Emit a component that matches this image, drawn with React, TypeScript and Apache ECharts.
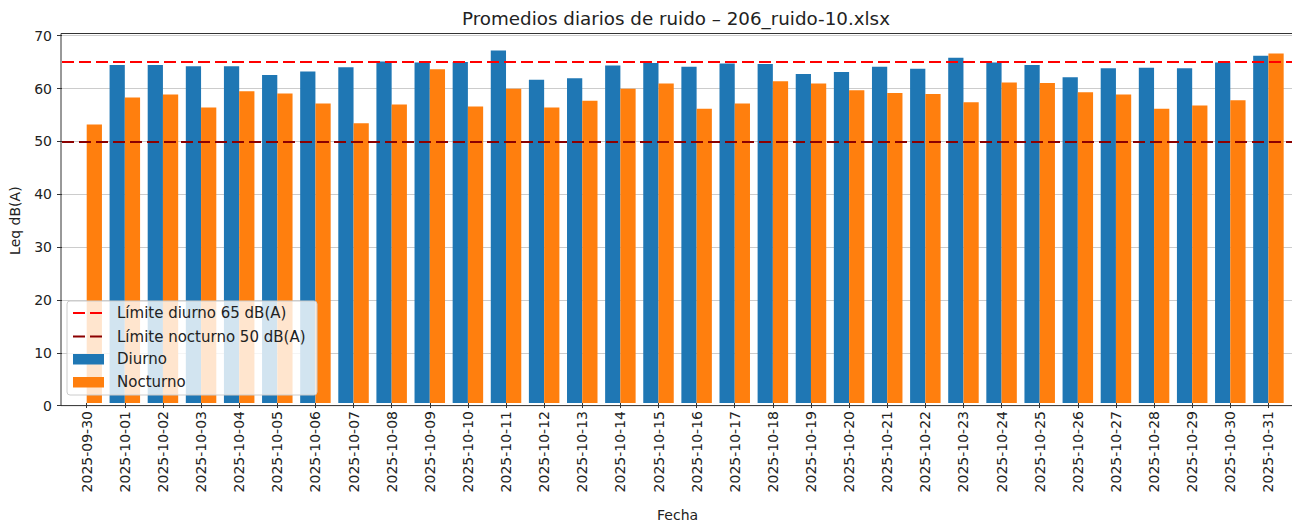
import React, { useEffect, useRef } from "react";
import * as echarts from "echarts";

const fechas = [
  "2025-09-30", "2025-10-01", "2025-10-02", "2025-10-03", "2025-10-04", "2025-10-05",
  "2025-10-06", "2025-10-07", "2025-10-08", "2025-10-09", "2025-10-10", "2025-10-11",
  "2025-10-12", "2025-10-13", "2025-10-14", "2025-10-15", "2025-10-16", "2025-10-17",
  "2025-10-18", "2025-10-19", "2025-10-20", "2025-10-21", "2025-10-22", "2025-10-23",
  "2025-10-24", "2025-10-25", "2025-10-26", "2025-10-27", "2025-10-28", "2025-10-29",
  "2025-10-30", "2025-10-31",
];

const diurno: (number | null)[] = [
  null, 64.4, 64.4, 64.2, 64.2, 62.5, 63.2, 64.0, 65.1, 64.9, 65.0, 67.2,
  61.6, 61.9, 64.3, 64.8, 64.1, 64.7, 64.6, 62.7, 63.1, 64.1, 63.7, 65.8,
  64.9, 64.4, 62.1, 63.8, 63.9, 63.8, 64.9, 66.2,
];

const nocturno = [
  53.1, 58.2, 58.8, 56.3, 59.4, 59.0, 57.1, 53.3, 56.9, 63.6, 56.5, 59.9,
  56.3, 57.6, 59.9, 60.9, 56.1, 57.1, 61.3, 60.9, 59.6, 59.1, 58.9, 57.3,
  61.1, 61.0, 59.2, 58.8, 56.1, 56.7, 57.7, 66.6,
];

const limiteDiurno = 65;
const limiteNocturno = 50;
const yMin = 0;
const yMax = 70;
const yInterval = 10;

const titulo = "Promedios diarios de ruido – 206_ruido-10.xlsx";
const legendLabels = [
  "Límite diurno 65 dB(A)",
  "Límite nocturno 50 dB(A)",
  "Diurno",
  "Nocturno",
];

export default function App() {
  const ref = useRef<HTMLDivElement>(null);

  useEffect(() => {
    document.body.style.margin = "0";
    const chart = echarts.init(ref.current!, null, { renderer: "svg" });
    const font = "DejaVu Sans";
    const W = 1292;
    const H = 527;
    const frameL = 61;
    const frameT = 33.5;
    const axisY = 405.6;
    const plotTop = 35.7;
    const band = 38.12;
    const firstTick = 86.7;
    const innerL = firstTick - band / 2;
    const innerR = innerL + band * fechas.length;
    const textColor = "#222222";
    const fs = 14;
    const legendFs = 15;

    const legendX = 67;
    const legendY = 301;
    const rows = [313, 336.5, 359, 382];
    const LZ = 100;

    const option: any = {
      animation: false,
      backgroundColor: "#ffffff",
      textStyle: { fontFamily: font },
      title: {
        text: titulo,
        left: 671,
        top: 4,
        textAlign: "center",
        textStyle: { fontFamily: font, fontSize: 18.3, fontWeight: "normal", color: textColor },
      },
      grid: [
        { left: frameL, right: -2, top: plotTop, bottom: H - axisY },
        { left: innerL, right: W - innerR, top: plotTop, bottom: H - axisY },
      ],
      xAxis: [
        { gridIndex: 0, type: "value", min: 0, max: 1, show: false },
        {
          gridIndex: 1,
          type: "category",
          data: fechas,
          boundaryGap: true,
          axisLine: { show: false },
          axisTick: { show: true, alignWithLabel: true, length: 5, lineStyle: { color: "#333333" } },
          axisLabel: {
            rotate: 90,
            interval: 0,
            margin: 8,
            fontSize: fs,
            fontFamily: font,
            color: textColor,
          },
          splitLine: { show: false },
          name: "Fecha",
          nameLocation: "middle",
          nameGap: 105,
          nameTextStyle: { fontFamily: font, fontSize: fs, color: textColor },
        },
      ],
      yAxis: [
        {
          gridIndex: 0,
          type: "value",
          min: yMin,
          max: yMax,
          interval: yInterval,
          axisLine: { show: false },
          axisTick: { show: true, length: 5, lineStyle: { color: "#333333" } },
          axisLabel: { fontSize: fs, fontFamily: font, color: textColor, margin: 10 },
          splitLine: { show: true, lineStyle: { color: "#cccccc", width: 1 } },
          name: "Leq dB(A)",
          nameLocation: "middle",
          nameGap: 40,
          nameRotate: 90,
          nameTextStyle: { fontFamily: font, fontSize: fs, color: textColor },
        },
        { gridIndex: 1, type: "value", min: yMin, max: yMax, interval: yInterval, show: false },
      ],
      series: [
        {
          type: "bar",
          name: "Diurno",
          xAxisIndex: 1,
          yAxisIndex: 1,
          data: diurno,
          barWidth: band * 0.4,
          barGap: "0%",
          itemStyle: { color: "#1f77b4" },
        },
        {
          type: "bar",
          name: "Nocturno",
          xAxisIndex: 1,
          yAxisIndex: 1,
          data: nocturno,
          barWidth: band * 0.4,
          barGap: "0%",
          itemStyle: { color: "#ff7f0e" },
        },
        {
          type: "line",
          name: legendLabels[0],
          xAxisIndex: 0,
          yAxisIndex: 0,
          data: [],
          markLine: {
            silent: true,
            symbol: "none",
            label: { show: false },
            lineStyle: { color: "#ff0000", type: [12, 5], width: 2 },
            data: [{ yAxis: limiteDiurno }],
          },
        },
        {
          type: "line",
          name: legendLabels[1],
          xAxisIndex: 0,
          yAxisIndex: 0,
          data: [],
          markLine: {
            silent: true,
            symbol: "none",
            label: { show: false },
            lineStyle: { color: "#8b0000", type: [12, 5], width: 2.2 },
            data: [{ yAxis: limiteNocturno }],
          },
        },
      ],
      graphic: [
        {
          type: "rect",
          z: 50,
          silent: true,
          shape: { x: frameL, y: frameT, width: W + 10 - frameL, height: axisY - frameT },
          style: { fill: "none", stroke: "#333333", lineWidth: 1 },
        },
        {
          type: "rect",
          z: LZ,
          silent: true,
          shape: { x: legendX, y: legendY, width: 250, height: 94, r: 3 },
          style: { fill: "rgba(255,255,255,0.8)", stroke: "#cccccc", lineWidth: 1 },
        },
        {
          type: "line",
          z: LZ + 1,
          silent: true,
          shape: { x1: 73, y1: rows[0], x2: 104, y2: rows[0] },
          style: { stroke: "#ff0000", lineWidth: 2, lineDash: [12, 5] },
        },
        {
          type: "line",
          z: LZ + 1,
          silent: true,
          shape: { x1: 73, y1: rows[1], x2: 104, y2: rows[1] },
          style: { stroke: "#8b0000", lineWidth: 2.2, lineDash: [12, 5] },
        },
        {
          type: "rect",
          z: LZ + 1,
          silent: true,
          shape: { x: 73, y: rows[2] - 5, width: 31, height: 10.5 },
          style: { fill: "#1f77b4" },
        },
        {
          type: "rect",
          z: LZ + 1,
          silent: true,
          shape: { x: 73, y: rows[3] - 5, width: 31, height: 10.5 },
          style: { fill: "#ff7f0e" },
        },
        ...legendLabels.map((t, i) => ({
          type: "text",
          z: LZ + 1,
          silent: true,
          x: 117,
          y: rows[i],
          style: {
            text: t,
            fontFamily: font,
            fontSize: legendFs,
            fill: textColor,
            verticalAlign: "middle",
          },
        })),
      ],
    };

    chart.setOption(option);
    return () => chart.dispose();
  }, []);

  return <div ref={ref} style={{ width: 1292, height: 527 }} />;
}
